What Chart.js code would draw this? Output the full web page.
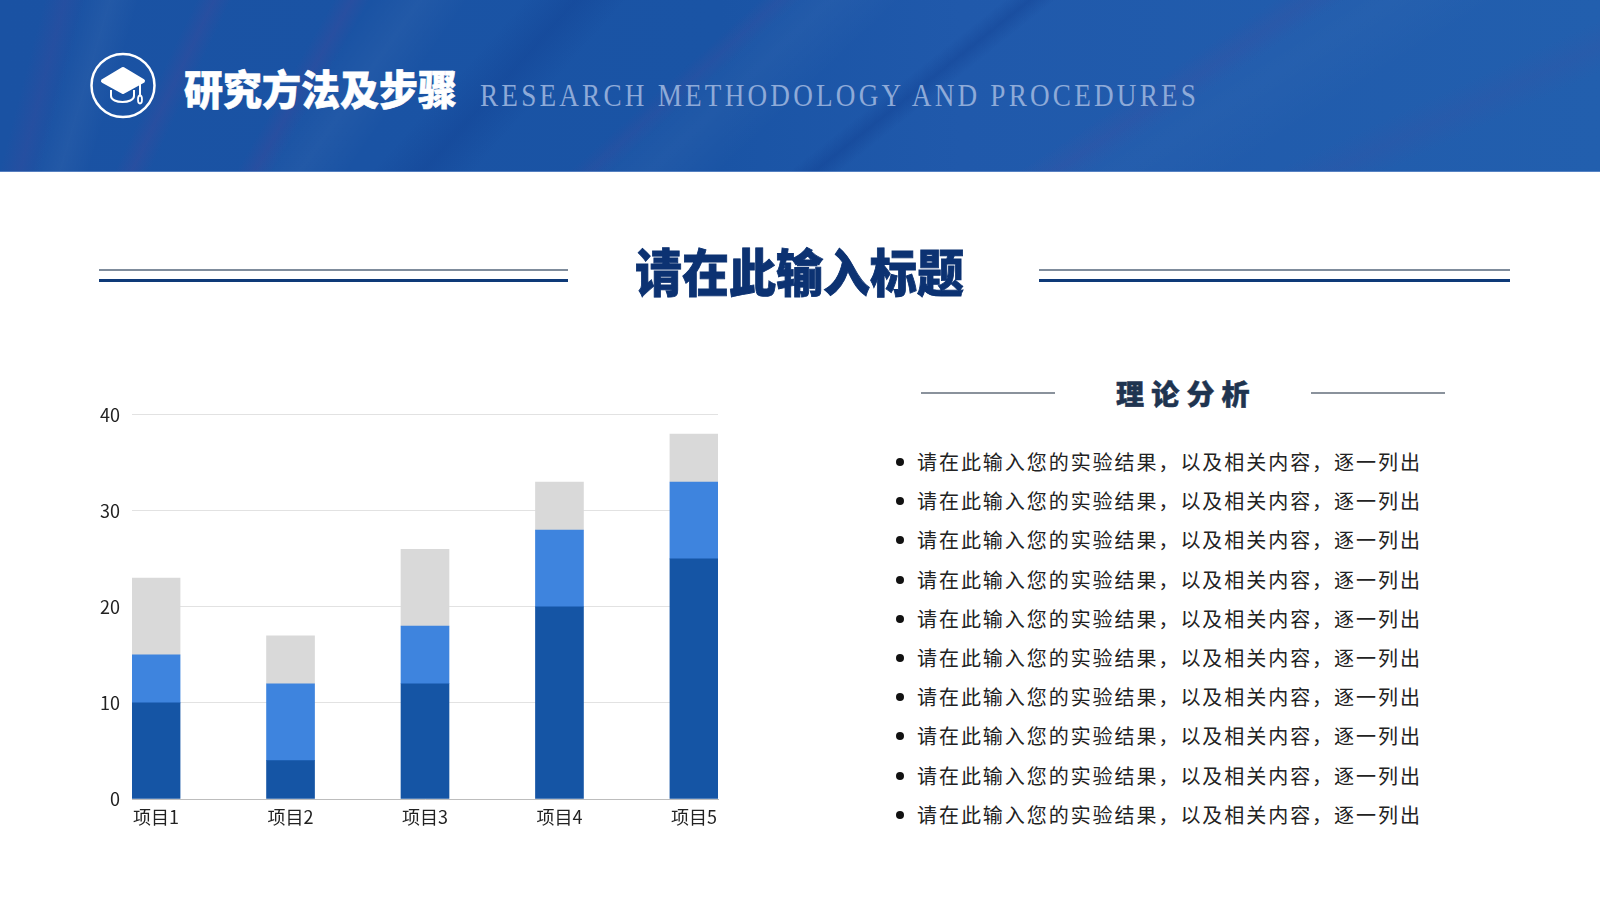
<!DOCTYPE html>
<html lang="zh-CN">
<head>
<meta charset="utf-8">
<title>研究方法及步骤</title>
<script src="https://cdn.jsdelivr.net/npm/chart.js@4/dist/chart.umd.min.js"></script>
<style>
  html, body { margin: 0; padding: 0; background: #fff; }
  body { width: 1600px; height: 900px; position: relative; overflow: hidden; font-family: "Noto Sans CJK SC", sans-serif; }
  .abs { position: absolute; white-space: nowrap; }
  .header { left: 0; top: 0; width: 1600px; height: 172px; box-shadow: inset 0 -1px 0 rgba(120,155,210,.6); }
  .heavy { font-weight: 900; transform-origin: left center; }
  .h-title { left: 184px; top: 57px; font-size: 39px; line-height: 60px; color: #fff; -webkit-text-stroke: .6px #fff; transform: scaleY(1.06); }
  .h-en { left: 480px; top: 72px; font-family: "Liberation Serif", serif; font-size: 32px; line-height: 46px; letter-spacing: 3.76px; color: #8eaad8; transform: scaleX(.85); transform-origin: left center; }
  .title { left: 635px; top: 237px; font-size: 47px; line-height: 66px; color: #0c3272; -webkit-text-stroke: .8px #0c3272; transform: scaleY(1.08); }
  .rule { height: 2px; background: #7f8c9c; }
  .rule.dark { height: 3px; background: #0e3a78; }
  .sub { left: 1116px; top: 373px; font-size: 28px; line-height: 40px; letter-spacing: 7.2px; color: #1f3450; -webkit-text-stroke: .5px #1f3450; }
  .rule.thin { height: 2px; background: #8a929c; }
  .bullets { left: 893px; top: 442px; margin: 0; padding: 0; list-style: none; }
  .bullets li { height: 39.2px; line-height: 39.2px; font-size: 20px; letter-spacing: 1.95px; color: #222; padding-left: 24px; position: relative; }
  .bullets li::before { content: ""; position: absolute; left: 3px; top: 16px; width: 8px; height: 8px; border-radius: 50%; background: #111; }
  #chartBox { position: absolute; left: 80px; top: 392px; width: 660px; height: 448px; }
</style>
</head>
<body>
<div class="abs header" id="header"></div>
<svg class="abs" style="left:88px;top:50px" width="72" height="72" viewBox="0 0 72 72">
  <circle cx="35" cy="35.500" r="31.500" fill="none" stroke="#fff" stroke-width="2.500"/>
  <path d="M35 19 L55 31 L35 42 L15 31 Z" fill="#fff" stroke="#fff" stroke-width="4" stroke-linejoin="round"/>
  <path d="M23 40 V46 C23 54 46 54 46 46 V40" fill="none" stroke="#fff" stroke-width="2"/>
  <path d="M52 33 V45" stroke="#fff" stroke-width="2"/>
  <ellipse cx="52" cy="49.500" rx="2" ry="4" fill="none" stroke="#fff" stroke-width="1.800"/>
</svg>
<div class="abs h-title heavy">研究方法及步骤</div>
<div class="abs h-en">RESEARCH METHODOLOGY AND PROCEDURES</div>

<div class="abs rule" style="left:99px;top:269px;width:469px"></div>
<div class="abs rule dark" style="left:99px;top:279px;width:469px"></div>
<div class="abs title heavy">请在此输入标题</div>
<div class="abs rule" style="left:1039px;top:269px;width:471px"></div>
<div class="abs rule dark" style="left:1039px;top:279px;width:471px"></div>

<div class="abs rule thin" style="left:921px;top:392px;width:134px"></div>
<div class="abs sub heavy">理论分析</div>
<div class="abs rule thin" style="left:1311px;top:392px;width:134px"></div>
<ul class="abs bullets" id="bulletList"></ul>

<div id="chartBox"><canvas id="stackChart"></canvas></div>

<script>
const categories = ['项目1', '项目2', '项目3', '项目4', '项目5'];
const seriesA = [10, 4, 12, 20, 25];
const seriesB = [5, 8, 6, 8, 8];
const seriesC = [8, 5, 8, 5, 5];
const yTicks = [0, 10, 20, 30, 40];
const bulletText = '请在此输入您的实验结果\uFF0C以及相关内容\uFF0C逐一列出';
const bulletCount = 10;

// header streaks: x at the bottom edge, x at the top edge, half width, colour
const purple = (a) => `rgba(88,66,150,${a})`;
const light = (a) => `rgba(255,255,255,${a})`;
const navy = (a) => `rgba(14,58,140,${a})`;
const streaks = [
  [20, 65, 20, purple(.18)],
  [60, 110, 28, light(.04)],
  [132, 214, 16, purple(.22)],
  [255, 352, 16, purple(.22)],
  [300, 420, 40, light(.035)],
  [423, 576, 38, navy(.3)],
  [590, 780, 14, purple(.14)],
  [650, 830, 50, light(.03)],
  [815, 1030, 16, navy(.35)],
  [1055, 1310, 20, purple(.14)],
  [1120, 1390, 60, light(.02)],
  [1330, 1700, 24, purple(.1)],
];

function streakLayer([xb, xt, half, color]) {
  const W = 1600, H = 171;
  const dx = xt - xb;
  const len = Math.hypot(dx, H);
  const nx = H / len, ny = dx / len;
  const deg = Math.atan2(H, -dx) * 180 / Math.PI;
  const G = W * nx + H * ny;
  const t = G / 2 + (xb - W / 2) * nx + (H - H / 2) * ny;
  return `linear-gradient(${deg}deg, transparent ${t - half}px, ${color} ${t}px, transparent ${t + half}px)`;
}
document.getElementById('header').style.background =
  streaks.map(streakLayer).concat('linear-gradient(90deg, #1a52a3 0%, #1a54a5 45%, #2059ab 60%, #225fae 100%)').join(',');

const list = document.getElementById('bulletList');
for (let i = 0; i < bulletCount; i++) {
  const li = document.createElement('li');
  li.textContent = bulletText;
  list.appendChild(li);
}

const tickFont = { family: '"Noto Sans CJK SC", sans-serif', size: 18, weight: '400' };
const toPoints = (values) => values.map((v, i) => ({ x: i, y: v }));

new Chart(document.getElementById('stackChart'), {
  type: 'bar',
  data: {
    datasets: [
      { label: '系列1', data: toPoints(seriesA), backgroundColor: '#1555a5', barThickness: 48 },
      { label: '系列2', data: toPoints(seriesB), backgroundColor: '#3e84de', barThickness: 48 },
      { label: '系列3', data: toPoints(seriesC), backgroundColor: '#d9d9d9', barThickness: 48 },
    ],
  },
  options: {
    responsive: true,
    maintainAspectRatio: false,
    animation: false,
    layout: { padding: { top: 7, right: 22, left: 0, bottom: 0 } },
    plugins: { legend: { display: false }, tooltip: { enabled: false } },
    scales: {
      x: {
        type: 'linear',
        stacked: true,
        offset: false,
        min: -0.179,
        max: categories.length - 1 + 0.179,
        afterBuildTicks: (scale) => { scale.ticks = categories.map((_, i) => ({ value: i })); },
        afterFit: (scale) => { scale.height = 41; },
        grid: { display: false, drawTicks: false, offset: false },
        border: { display: true, color: '#bdbdbd', width: 1 },
        ticks: {
          color: '#222',
          font: tickFont,
          padding: 7,
          maxRotation: 0,
          autoSkip: false,
          callback: (value) => categories[value],
        },
      },
      y: {
        stacked: true,
        min: 0,
        max: 40,
        afterBuildTicks: (scale) => { scale.ticks = yTicks.map((v) => ({ value: v })); },
        afterFit: (scale) => { scale.width = 52; },
        grid: { color: '#e2e2e2', drawTicks: false },
        border: { display: false },
        ticks: { color: '#222', font: tickFont, padding: 12 },
      },
    },
  },
});
</script>
</body>
</html>
